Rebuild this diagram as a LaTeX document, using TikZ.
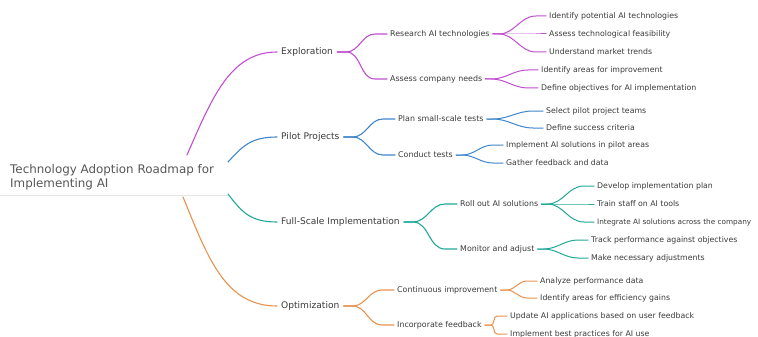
\documentclass[tikz,border=0pt]{standalone}
\usepackage{fontspec}
\setmainfont{DejaVu Sans}
\definecolor{cexp}{HTML}{C04FD0}
\definecolor{cpil}{HTML}{3F86CC}
\definecolor{cful}{HTML}{22A89A}
\definecolor{copt}{HTML}{E8924E}
\definecolor{txt}{HTML}{3A3A3A}
\begin{document}
\begin{tikzpicture}[x=1pt,y=-1pt,
  rootbox/.style={anchor=west,align=left,text=txt!85,font=\fontsize{11.9}{13.5}\selectfont,inner sep=0pt},
  lone/.style={anchor=west,text=txt,font=\fontsize{9.1}{10}\selectfont,inner xsep=4pt,inner ysep=1pt},
  ltwo/.style={anchor=west,text=txt,font=\fontsize{7.9}{9}\selectfont,inner xsep=3pt,inner ysep=1pt},
  lthree/.style={anchor=west,text=txt,font=\fontsize{7.8}{8}\selectfont,inner xsep=3pt,inner ysep=1pt},
  edge/.style={line width=1.1pt,line cap=round}]
\useasboundingbox (0,0) rectangle (758,337);
% root
\node[rootbox] (root) at (10,177) {Technology Adoption Roadmap for\\Implementing AI};
\draw[black!10,line width=0.6pt] (0,195) -- (228,195);
\coordinate (r1) at (187,155);
\coordinate (r2) at (228,162);
\coordinate (r3) at (228,194);
\coordinate (r4) at (183,197);
% level 1
\node[lone] (exp) at (277,52) {Exploration};
\node[lone] (pil) at (277,137) {Pilot Projects};
\node[lone] (ful) at (277,222) {Full-Scale Implementation};
\node[lone] (opt) at (277,306) {Optimization};
\draw[edge,cexp] (r1) .. controls (212,98) and (230,52) .. (exp.west);
\draw[edge,cpil] (r2) .. controls (242,147) and (250,137) .. (pil.west);
\draw[edge,cful] (r3) .. controls (242,212) and (250,222) .. (ful.west);
\draw[edge,copt] (r4) .. controls (208,258) and (225,306) .. (opt.west);
% level 2
\node[ltwo] (res) at (387,34) {Research AI technologies};
\node[ltwo] (ass) at (387,79) {Assess company needs};
\node[ltwo] (pla) at (395,119) {Plan small-scale tests};
\node[ltwo] (con) at (395,155) {Conduct tests};
\node[ltwo] (rol) at (457,204) {Roll out AI solutions};
\node[ltwo] (mon) at (457,249) {Monitor and adjust};
\node[ltwo] (cti) at (394,290) {Continuous improvement};
\node[ltwo] (inc) at (394,325) {Incorporate feedback};
\foreach \p/\c/\k in {exp/res/cexp,exp/ass/cexp,pil/pla/cpil,pil/con/cpil,ful/rol/cful,ful/mon/cful,opt/cti/copt,opt/inc/copt}{
  \draw[edge,\k] (\p.east) -- ++(9,0) to[out=0,in=180] ([xshift=-12pt]\c.west) -- (\c.west);
}
% level 3
\node[lthree] (l1) at (546,16) {Identify potential AI technologies};
\node[lthree] (l2) at (546,34) {Assess technological feasibility};
\node[lthree] (l3) at (546,52) {Understand market trends};
\node[lthree] (l4) at (538,70) {Identify areas for improvement};
\node[lthree] (l5) at (538,88) {Define objectives for AI implementation};
\node[lthree] (l6) at (543,111) {Select pilot project teams};
\node[lthree] (l7) at (543,128) {Define success criteria};
\node[lthree] (l8) at (503,145) {Implement AI solutions in pilot areas};
\node[lthree] (l9) at (503,163) {Gather feedback and data};
\node[lthree] (l10) at (594,186) {Develop implementation plan};
\node[lthree] (l11) at (594,204) {Train staff on AI tools};
\node[lthree,font=\fontsize{7.3}{8}\selectfont] (l12) at (594,222) {Integrate AI solutions across the company};
\node[lthree] (l13) at (588,240) {Track performance against objectives};
\node[lthree] (l14) at (588,258) {Make necessary adjustments};
\node[lthree] (l15) at (537,281) {Analyze performance data};
\node[lthree] (l16) at (537,298) {Identify areas for efficiency gains};
\node[lthree] (l17) at (507,316) {Update AI applications based on user feedback};
\node[lthree] (l18) at (507,334) {Implement best practices for AI use};
\foreach \p/\c/\k in {res/l1/cexp,res/l2/cexp,res/l3/cexp,ass/l4/cexp,ass/l5/cexp,pla/l6/cpil,pla/l7/cpil,con/l8/cpil,con/l9/cpil,rol/l10/cful,rol/l11/cful,rol/l12/cful,mon/l13/cful,mon/l14/cful,cti/l15/copt,cti/l16/copt,inc/l17/copt,inc/l18/copt}{
  \draw[edge,line width=1pt,\k] (\p.east) -- ++(6,0) to[out=0,in=180] ([xshift=-10pt]\c.west) -- (\c.west);
}
\end{tikzpicture}
\end{document}
